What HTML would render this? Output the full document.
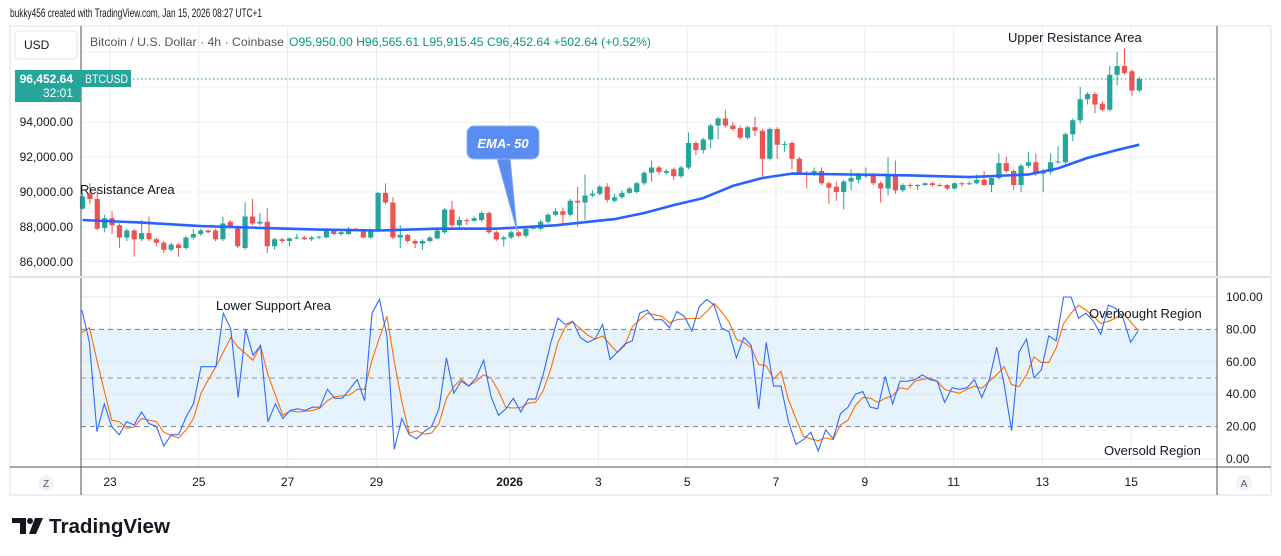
<!DOCTYPE html>
<html><head><meta charset="utf-8">
<style>
html,body{margin:0;padding:0;background:#fff;}
svg{display:block;font-family:"Liberation Sans",sans-serif;}
</style></head>
<body>
<svg id="chart" width="1281" height="556" viewBox="0 0 1281 556" xmlns="http://www.w3.org/2000/svg">
  <rect x="0" y="0" width="1281" height="556" fill="#fff"/>
  <text x="10" y="17" font-size="12" fill="#131722" textLength="252" lengthAdjust="spacingAndGlyphs">bukky456 created with TradingView.com, Jan 15, 2026 08:27 UTC+1</text>
  <rect x="10" y="26" width="1261" height="469" fill="#fff" stroke="#e8eaef" stroke-width="1.5"/>
  <rect x="81" y="329" width="1136" height="97" fill="#e6f3fd"/>
  <g id="grid"></g>
  <g id="candles"></g>
  <path id="ema" fill="none" stroke="#2962ff" stroke-width="2.6" stroke-linejoin="round"/>
  <line x1="81" y1="79" x2="1217" y2="79" stroke="#089981" stroke-width="1" stroke-dasharray="1.5 2.5"/>
  <g id="rsi"></g>
  <line x1="81" y1="26" x2="81" y2="495" stroke="#50535e" stroke-width="1"/>
  <line x1="1217" y1="26" x2="1217" y2="495" stroke="#50535e" stroke-width="1"/>
  <line x1="10" y1="277" x2="1271" y2="277" stroke="#e0e3eb" stroke-width="2"/>
  <line x1="10" y1="467" x2="1271" y2="467" stroke="#50535e" stroke-width="1"/>
  <g id="labels" font-size="12" fill="#131722"></g>
  <rect x="15" y="31" width="62" height="28" rx="4" fill="#fff" stroke="#e0e3eb"/>
  <text x="24" y="49" font-size="12" fill="#131722">USD</text>
  <text x="90" y="46" font-size="12" fill="#555" textLength="194" lengthAdjust="spacingAndGlyphs">Bitcoin / U.S. Dollar · 4h · Coinbase</text>
  <text x="289" y="46" font-size="12" fill="#089981" textLength="362" lengthAdjust="spacingAndGlyphs">O95,950.00  H96,565.61  L95,915.45  C96,452.64  +502.64 (+0.52%)</text>
  <rect x="15" y="70" width="66" height="32" fill="#26a69a"/>
  <text x="73" y="83" font-size="12" fill="#fff" text-anchor="end" font-weight="bold">96,452.64</text>
  <text x="73" y="97" font-size="12" fill="#fff" text-anchor="end">32:01</text>
  <rect x="81" y="70" width="50" height="17" fill="#26a69a"/>
  <text x="85" y="83" font-size="12" fill="#fff" textLength="43" lengthAdjust="spacingAndGlyphs">BTCUSD</text>
  <text x="80" y="194" font-size="13" fill="#131722">Resistance Area</text>
  <text x="1008" y="42" font-size="13" fill="#131722">Upper Resistance Area</text>
  <text x="216" y="310" font-size="13" fill="#131722">Lower Support Area</text>
  <text x="1089" y="318" font-size="13" fill="#131722">Overbought Region</text>
  <text x="1104" y="455" font-size="13" fill="#131722">Oversold Region</text>
  <g>
    <path d="M497,158 L510,158 L517,231 Z" fill="#5b8cf0" stroke="#7aa6f5" stroke-width="1"/>
    <rect x="467" y="126" width="72" height="33" rx="7" fill="#5b8cf0" stroke="#8fb3f5" stroke-width="1"/>
    <text x="503" y="148" font-size="13" fill="#fff" text-anchor="middle" font-style="italic" font-weight="bold">EMA- 50</text>
  </g>
  <circle cx="46" cy="483" r="8" fill="#f0f3fa"/>
  <text x="46" y="487" font-size="10" fill="#555" text-anchor="middle">Z</text>
  <circle cx="1244" cy="483" r="8" fill="#f0f3fa"/>
  <text x="1244" y="487" font-size="10" fill="#555" text-anchor="middle">A</text>
  <g>
    <path d="M12,518 H26 V534 H20 V523 H12 Z" fill="#131722"/>
    <circle cx="30" cy="521" r="3" fill="#131722"/>
    <path d="M35,518 H43 L36,534 H29 Z" fill="#131722"/>
    <text x="49" y="533" font-size="20" font-weight="bold" fill="#131722" textLength="121" lengthAdjust="spacingAndGlyphs">TradingView</text>
  </g>
</svg>
<script>
const O=[89.05,89.9,89.6,87.95,88.5,88.1,87.4,87.8,87.3,87.65,87.3,87.1,86.7,87.0,86.8,87.4,87.6,87.8,87.8,87.3,88.3,88.0,86.8,88.6,88.2,88.3,86.9,87.3,87.2,87.35,87.4,87.3,87.4,87.4,87.8,87.6,87.6,87.9,87.85,87.4,87.8,89.95,89.4,87.4,87.55,87.2,87.05,87.2,87.35,87.7,89.0,88.1,88.4,88.35,88.4,88.8,87.7,87.3,87.4,87.7,87.5,87.9,87.9,88.3,88.7,88.9,88.7,89.5,89.4,89.8,89.9,90.3,89.5,89.7,89.95,90.0,90.5,91.1,91.4,91.1,91.3,90.9,91.4,92.8,92.4,93.0,93.8,94.2,93.8,93.65,93.1,93.7,93.5,91.9,93.6,92.7,92.8,91.9,91.1,91.0,91.2,90.5,90.3,90.0,90.6,90.7,90.9,91.05,90.5,90.2,91.0,90.1,90.4,90.35,90.4,90.5,90.4,90.4,90.2,90.5,90.45,90.5,90.7,90.4,90.8,91.65,91.2,90.4,91.5,91.7,91.05,91.15,91.7,91.7,93.3,94.1,95.3,95.6,95.05,94.7,96.7,97.2,96.9,95.8];
const C=[89.75,89.6,87.9,88.5,88.1,87.4,87.8,87.3,87.65,87.3,87.1,86.7,87.0,86.8,87.4,87.6,87.8,87.7,87.3,88.2,88.0,86.9,88.6,88.2,88.3,86.9,87.3,87.2,87.35,87.4,87.3,87.4,87.45,87.8,87.6,87.7,87.9,87.85,87.4,87.8,89.95,89.4,87.4,87.55,87.2,87.05,87.2,87.4,87.8,89.0,88.1,88.4,88.35,88.5,88.8,87.7,87.3,87.4,87.7,87.5,87.9,88.0,88.3,88.7,88.9,88.7,89.5,89.4,89.8,89.9,90.3,89.55,89.7,89.95,90.2,90.5,91.1,91.4,91.15,91.2,90.9,91.4,92.8,92.4,93.0,93.8,94.2,93.8,93.6,93.1,93.7,93.5,91.9,93.6,92.7,92.75,91.9,91.1,91.0,91.2,90.5,90.25,90.0,90.6,90.8,90.95,91.05,90.5,90.2,91.0,90.1,90.4,90.35,90.4,90.5,90.4,90.35,90.2,90.5,90.45,90.5,90.7,90.4,90.8,91.65,91.2,90.4,91.5,91.7,91.05,91.2,91.7,91.75,93.3,94.1,95.3,95.6,95.0,94.7,96.7,97.2,96.8,95.8,96.45];
const H=[89.9,90.5,90.1,88.7,88.9,88.2,87.9,87.9,88.4,88.6,87.4,87.2,87.1,87.1,87.5,87.9,87.9,87.85,87.9,88.6,88.4,88.1,89.4,89.6,88.8,89.1,87.4,87.4,87.4,87.6,87.5,87.5,87.5,87.9,87.85,87.8,88.0,87.95,87.9,87.9,90.0,90.5,89.7,88.1,87.6,87.3,87.3,87.5,87.9,89.1,89.5,88.6,88.5,88.6,88.9,88.9,87.8,87.5,87.8,87.8,88.0,88.1,88.4,88.8,89.1,89.1,89.6,90.3,91.0,90.1,90.4,90.5,89.9,90.1,90.3,90.6,91.2,91.8,91.5,91.3,91.4,91.5,93.4,92.9,93.1,93.9,94.3,94.7,94.0,93.8,93.8,94.3,93.6,93.7,93.7,92.9,92.9,92.0,91.2,91.4,91.4,90.6,90.6,90.7,91.3,91.1,91.4,91.1,90.6,92.0,91.8,90.5,90.5,90.45,90.55,90.6,90.5,90.45,90.55,90.6,90.6,91.0,91.2,90.9,92.2,92.0,91.3,91.6,92.3,92.2,91.3,92.2,92.6,93.4,94.2,96.0,95.7,95.7,95.2,97.2,98.0,98.2,97.0,96.6];
const L=[89.0,89.3,87.8,87.7,87.6,86.8,87.2,86.3,87.2,87.2,86.9,86.5,86.6,86.3,86.7,87.3,87.5,87.65,87.2,87.2,87.9,86.8,86.7,88.1,88.1,86.5,86.7,87.1,86.9,87.3,87.25,87.2,87.3,87.35,87.55,87.5,87.55,87.8,87.35,87.3,87.7,89.3,87.3,86.8,87.1,86.8,86.7,87.1,87.3,87.6,88.0,87.9,88.1,88.3,88.3,87.6,87.2,86.9,87.3,87.4,87.4,87.85,87.8,88.2,88.6,88.2,88.6,88.0,88.4,89.7,89.8,89.4,89.4,89.6,89.9,89.9,90.4,90.6,91.0,91.0,90.7,90.8,91.3,92.1,92.2,92.5,93.0,93.7,93.5,93.0,93.0,93.2,90.9,91.8,91.9,92.3,91.3,91.0,90.2,90.9,90.4,89.3,89.5,89.0,90.1,90.5,90.8,90.4,89.4,89.8,89.9,90.0,90.2,90.1,90.35,90.3,90.3,90.1,90.15,90.3,90.4,90.45,90.35,90.0,90.7,91.1,90.1,90.0,91.4,90.9,90.0,91.0,91.6,91.6,92.9,93.9,95.0,94.5,94.6,94.6,96.1,96.7,95.5,95.7];
const emaIdx=[0,8,16,24,32,40,48,56,64,72,76,80,84,88,92,96,104,112,120,128,132,136,140,143];
const emaVal=[88.4,88.25,88.05,87.95,87.85,87.8,87.9,87.9,88.1,88.45,88.8,89.25,89.65,90.35,90.8,91.05,91.0,90.95,90.85,91.0,91.35,91.95,92.4,92.7];
const priceTicks=[86000,88000,90000,92000,94000];
const priceGrid=[86,88,90,92,94,96,98];
const rsiTicks=[0,20,40,60,80,100];
const dayLabels=['23','25','27','29','2026','3','5','7','9','11','13','15'];
const dayOffsets=[0,2,4,6,9,11,13,15,17,19,21,23];
const K=[91.8,72,17,34,20,15,23,21,29,22,20,8,15,15,26,34,57,57,57,90,80.5,38,80,64,70,23,34,25,30,31,30,32,32,43,37.5,37.5,43,49,36,90,98.5,76,6,25,15,12.5,17,20,31,62.5,40.6,48,45,50,61,38.5,27,31,37.5,29,37,37,52,71,87,83,85,75,72,74,83,61.5,66,71,73,90,92,86,86,81,91,88,79,94,98.6,95,81,78.5,62.5,75,70,31,72,45,45,23,9,12,16.6,5,18,12.5,28,32,40,41.6,32,31,51,34,48,48,49,52,49,48,35,44,43,44,49,38,49,69,46,17.4,66,74,50,55,76,73,100,100,87,90,85,77,95,93,87,72,79];
const D=[78,81,61,42,24,23,19,19.7,25,24,23,16.6,14.5,13,18,25,40.6,49,57,66,75,69,65,61,70,52,39.5,27,29.7,29,29.5,30,31.4,36,38.5,39,39.5,43,43,61,75,88,60,35.5,16,17.4,15.4,16,22,37.5,44.7,49.4,45,48,52,50,42,31.8,31.5,31.8,34.4,35,42,55,72,81.6,84.6,80.5,76.4,74,76,70.7,65.8,70,81.6,86,90,89,88,84,86,86.5,86.7,86.7,91,96,91,84.6,74,72,68.6,58.4,57.6,49.4,54,36.5,25,14,12.5,11.3,13,12,21,24,33,38,37.5,35,37.5,39,44,43,48,49,50,48,43,41.6,40.6,43,45,43.6,48,52,57,46,44.7,52,63,59.6,59.6,68.6,83.6,90,95,92,88,83.6,85,87,90,84.6,79.5];

const NS='http://www.w3.org/2000/svg';
const X0=82.5, X1=1139.3;
const xi=i=>X0+(X1-X0)*i/(O.length-1);
const py=p=>122+(94-p)*17.5;
const ry=v=>459-v*1.62;
const dx=d=>110+d*44.4;
function mk(tag,attrs,parent){const e=document.createElementNS(NS,tag);for(const k in attrs)e.setAttribute(k,attrs[k]);parent.appendChild(e);return e;}

const grid=document.getElementById('grid');
priceGrid.forEach(p=>{const l=mk('line',{x1:81,x2:1217,y1:py(p),y2:py(p),stroke:'#eef1f5','stroke-width':1},grid);

});
[0,40,60,100].forEach(v=>{const l=mk('line',{x1:81,x2:1217,y1:ry(v),y2:ry(v),stroke:'#dde7f0','stroke-width':1},grid);

});
dayOffsets.forEach(d=>{const l=mk('line',{x1:dx(d),x2:dx(d),y1:26,y2:467,stroke:'#e6eef5','stroke-width':1},grid);

});
[[80,'#787b86'],[50,'#9598a1'],[20,'#787b86']].forEach(([v,c])=>{const l=mk('line',{x1:81,x2:1217,y1:ry(v),y2:ry(v),stroke:c,'stroke-width':1,'stroke-dasharray':'5 4'},grid);

});

const cg=document.getElementById('candles');
for(let i=0;i<O.length;i++){
  const up=C[i]>=O[i];const col=up?'#26a69a':'#ef5350';const x=xi(i);
  const g=mk('g',{},cg);
  
  
  mk('line',{x1:x,x2:x,y1:py(H[i]),y2:py(L[i]),stroke:col,'stroke-width':1},g);
  const t=py(Math.max(O[i],C[i])),b=py(Math.min(O[i],C[i]));
  mk('rect',{x:x-2.6,y:t,width:5.2,height:Math.max(1,b-t),fill:col},g);
}
document.getElementById('ema').setAttribute('d',emaIdx.map((k,j)=>(j?'L':'M')+xi(k).toFixed(1)+','+py(emaVal[j]).toFixed(1)).join(' '));

const rg=document.getElementById('rsi');
const path=(arr)=>arr.map((v,j)=>(j?'L':'M')+(82+(1138-82)*j/(arr.length-1)).toFixed(1)+','+ry(v).toFixed(1)).join(' ');
const dl=mk('path',{d:path(D),fill:'none',stroke:'#ff6d00','stroke-width':1.1},rg);


const kl=mk('path',{d:path(K),fill:'none',stroke:'#2f6bff','stroke-width':1.1},rg);



const lab=document.getElementById('labels');
priceTicks.forEach(p=>{const t=mk('text',{x:73,y:py(p/1000)+4,'text-anchor':'end'},lab);t.textContent=p.toLocaleString('en-US',{minimumFractionDigits:2});

});
rsiTicks.forEach(v=>{const t=mk('text',{x:1226,y:ry(v)+4},lab);t.textContent=v.toFixed(2);

});
dayLabels.forEach((s,j)=>{const t=mk('text',{x:dx(dayOffsets[j]),y:486,'text-anchor':'middle'},lab);t.textContent=s;if(s==='2026')t.setAttribute('font-weight','bold');

});
</script>
</body></html>
